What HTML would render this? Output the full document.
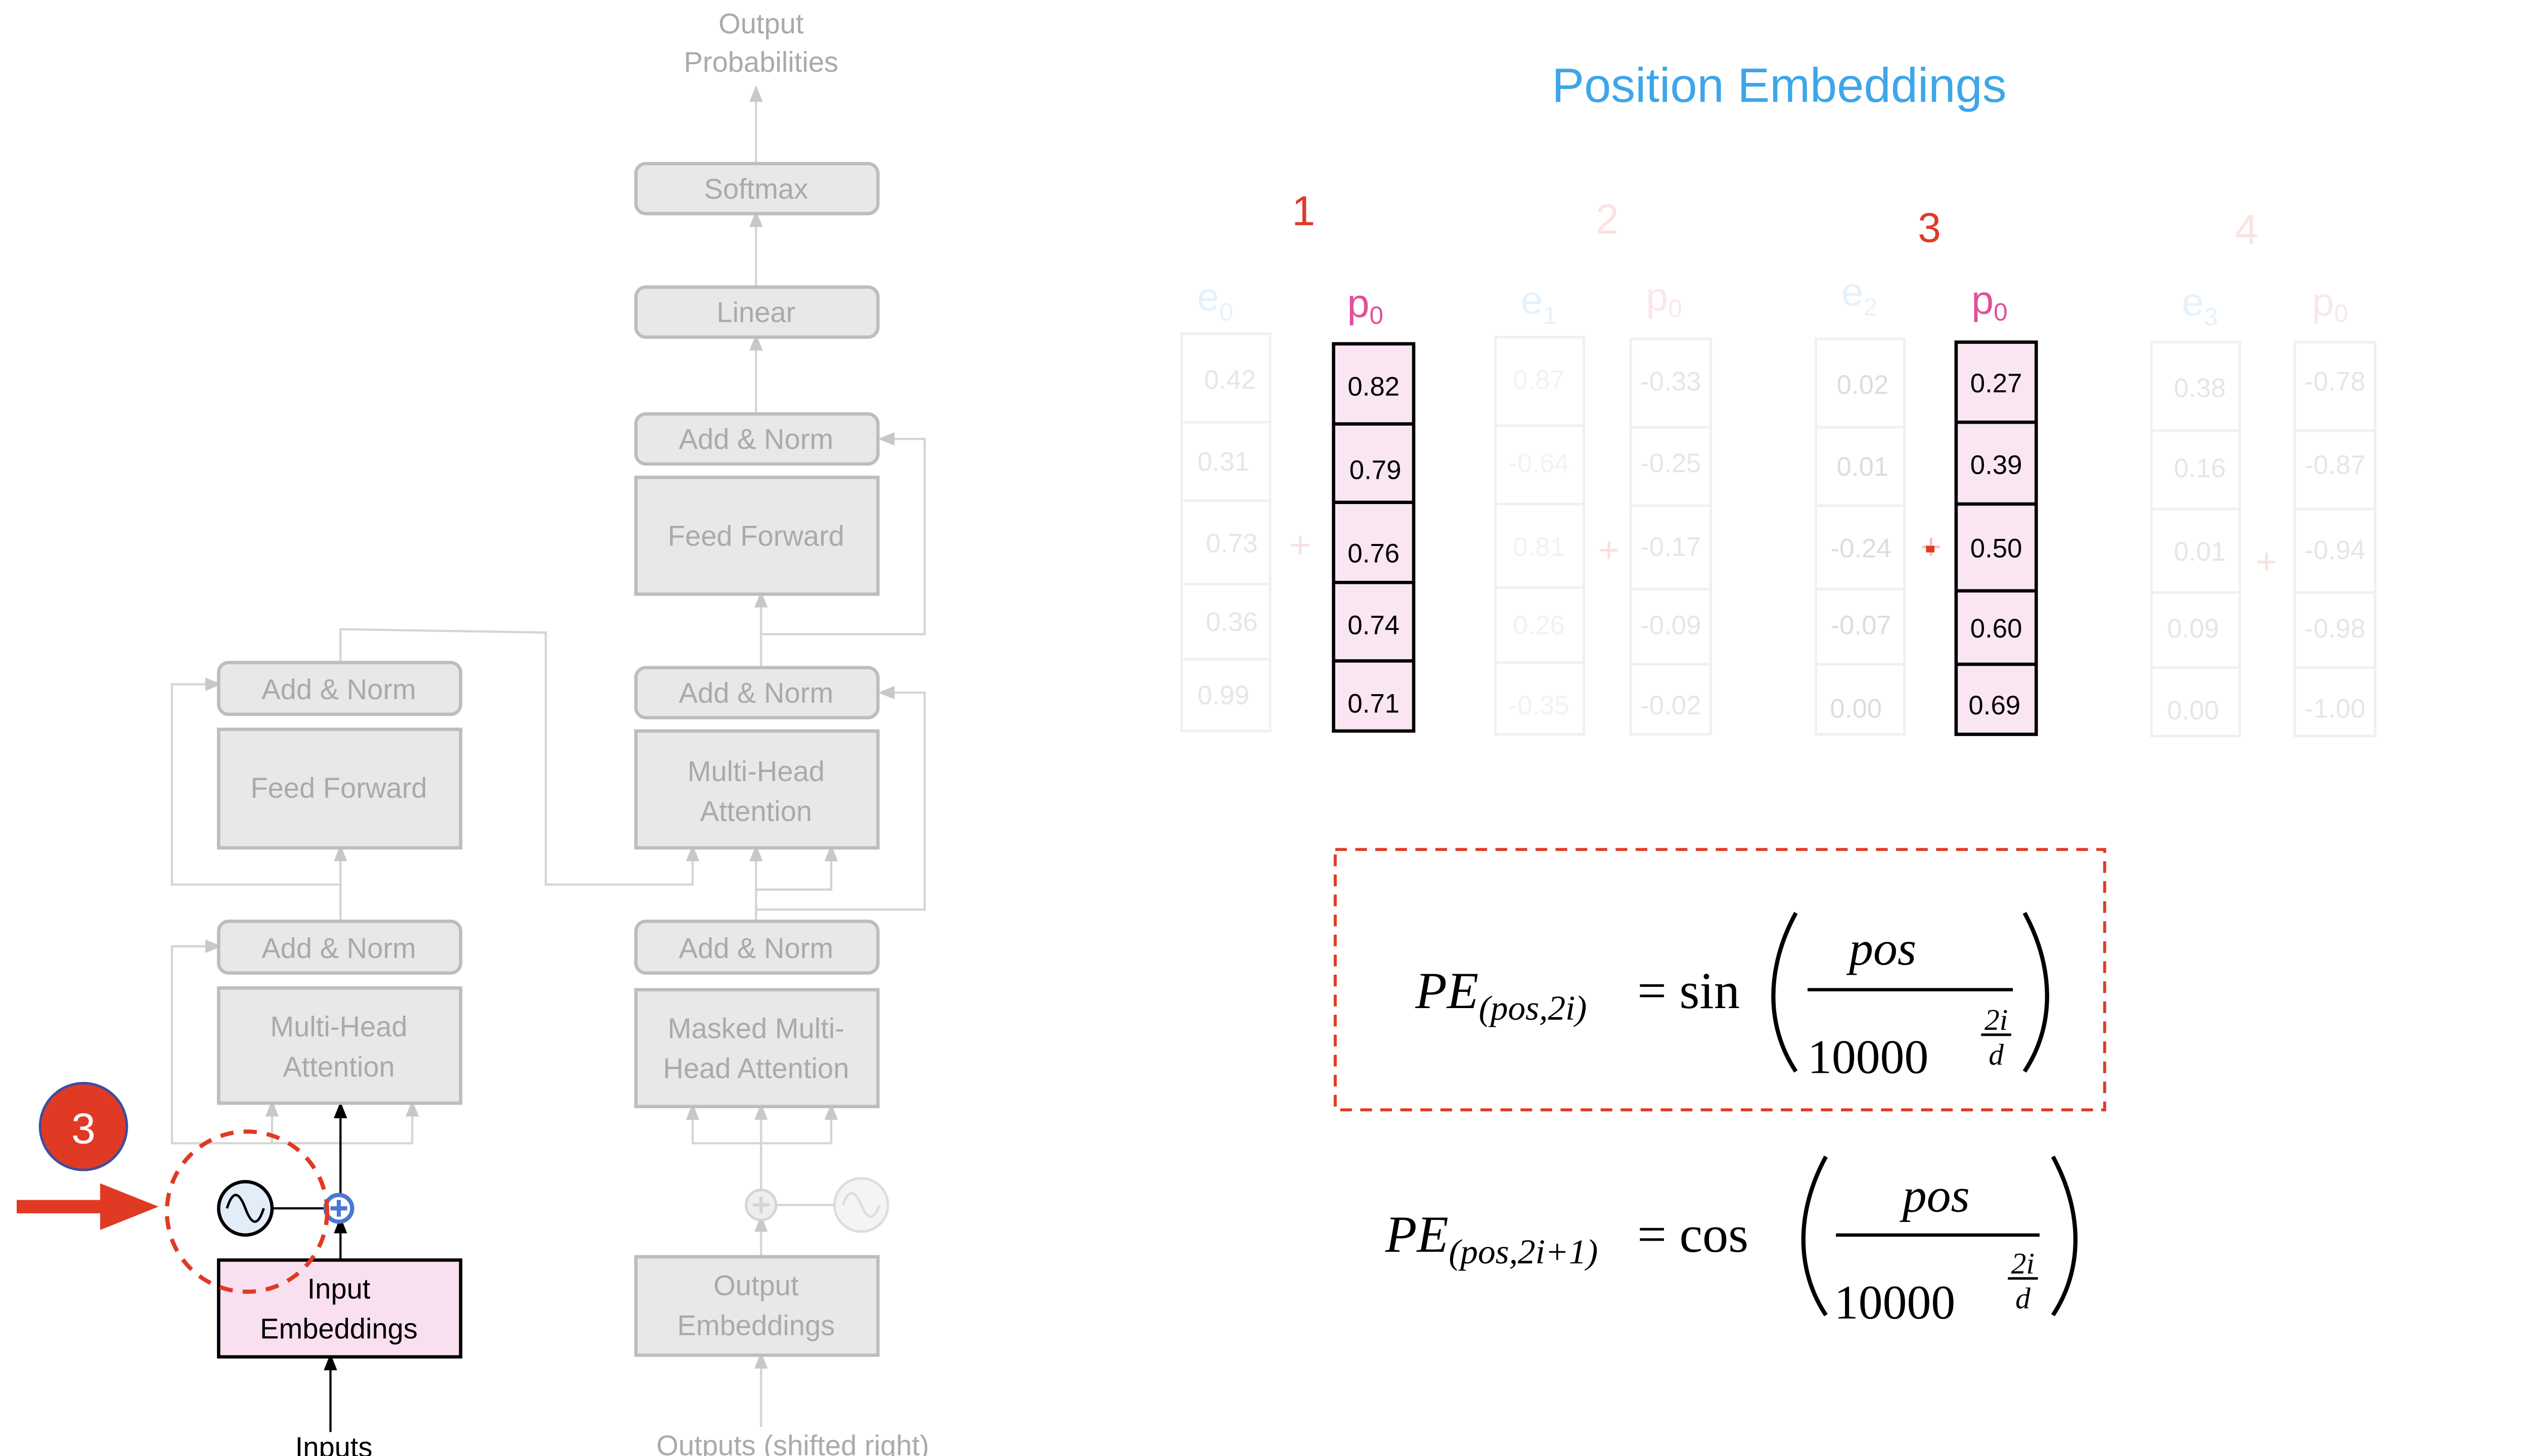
<!DOCTYPE html>
<html><head><meta charset="utf-8"><style>
html,body{margin:0;padding:0;background:#fff;}
svg{display:block;}
.g{font-family:"Liberation Sans",sans-serif;fill:#aaa;font-size:17px;text-anchor:middle;}
.bx{fill:#e8e8e8;stroke:#bdbdbd;stroke-width:2;}
.ln{stroke:#d4d4d4;stroke-width:1.3;fill:none;}
.fv{font-family:"Liberation Sans",sans-serif;font-size:16px;text-anchor:middle;fill:#e6e6e6;}
.pv{font-family:"Liberation Sans",sans-serif;font-size:16px;text-anchor:middle;fill:#000;}
.cell{fill:none;stroke:#f0f0f0;stroke-width:1.5;}
.m{font-family:"Liberation Serif",serif;fill:#000;}
</style></head><body>
<svg width="5120" height="2880" viewBox="0 0 1551 872.4" preserveAspectRatio="none" xmlns="http://www.w3.org/2000/svg">
<defs>
<marker id="ag" markerWidth="10" markerHeight="10" refX="5" refY="5" orient="auto" markerUnits="userSpaceOnUse"><path d="M0,1 L10,5 L0,9 z" fill="#c8c8c8"/></marker>
<marker id="ab" markerWidth="10" markerHeight="10" refX="5" refY="5" orient="auto" markerUnits="userSpaceOnUse"><path d="M0,1 L10,5 L0,9 z" fill="#000"/></marker>
</defs>
<rect width="1551" height="872.4" fill="#fff"/>

<line class="ln" x1="453" y1="98" x2="453" y2="56" marker-end="url(#ag)"/>
<line class="ln" x1="453" y1="172" x2="453" y2="131" marker-end="url(#ag)"/>
<line class="ln" x1="453" y1="248" x2="453" y2="205" marker-end="url(#ag)"/>
<line class="ln" x1="456" y1="400" x2="456" y2="359" marker-end="url(#ag)"/>
<polyline class="ln" points="456,380 554,380 554,263 531,263" marker-end="url(#ag)"/>
<line class="ln" x1="453" y1="552" x2="453" y2="511" marker-end="url(#ag)"/>
<polyline class="ln" points="453,533 498,533 498,511" marker-end="url(#ag)"/>
<polyline class="ln" points="453,545 554,545 554,415 531,415" marker-end="url(#ag)"/>
<polyline class="ln" points="204,397 204,377 327,379 327,530 415,530 415,511" marker-end="url(#ag)"/>
<line class="ln" x1="456" y1="753" x2="456" y2="733" marker-end="url(#ag)"/>
<line class="ln" x1="456" y1="713" x2="456" y2="666" marker-end="url(#ag)"/>
<polyline class="ln" points="456,685 415,685 415,666" marker-end="url(#ag)"/>
<polyline class="ln" points="456,685 498,685 498,666" marker-end="url(#ag)"/>
<line class="ln" x1="465" y1="722" x2="500" y2="722"/>
<line class="ln" x1="456" y1="855" x2="456" y2="815" marker-end="url(#ag)"/>

<line class="ln" x1="204" y1="552" x2="204" y2="511" marker-end="url(#ag)"/>
<polyline class="ln" points="204,530 103,530 103,410 128,410" marker-end="url(#ag)"/>
<polyline class="ln" points="204,685 103,685 103,567 128,567" marker-end="url(#ag)"/>
<polyline class="ln" points="204,685 163,685 163,664" marker-end="url(#ag)"/>
<polyline class="ln" points="204,685 247,685 247,664" marker-end="url(#ag)"/>
<line x1="204" y1="716" x2="204" y2="665" stroke="#000" stroke-width="1.3" marker-end="url(#ab)"/>
<line x1="204" y1="755" x2="204" y2="734" stroke="#000" stroke-width="1.3" marker-end="url(#ab)"/>
<line x1="198" y1="858" x2="198" y2="816" stroke="#000" stroke-width="1.3" marker-end="url(#ab)"/>
<line x1="163" y1="724" x2="195" y2="724" stroke="#000" stroke-width="1.3"/>

<rect class="bx" x="381" y="98" width="145" height="30" rx="6"/><text class="g" x="453" y="119">Softmax</text>
<rect class="bx" x="381" y="172" width="145" height="30" rx="6"/><text class="g" x="453" y="193">Linear</text>
<rect class="bx" x="381" y="248" width="145" height="30" rx="6"/><text class="g" x="453" y="269">Add &amp; Norm</text>
<rect class="bx" x="381" y="286" width="145" height="70"/><text class="g" x="453" y="327">Feed Forward</text>
<rect class="bx" x="381" y="400" width="145" height="30" rx="6"/><text class="g" x="453" y="421">Add &amp; Norm</text>
<rect class="bx" x="381" y="438" width="145" height="70"/><text class="g" x="453" y="468">Multi-Head</text><text class="g" x="453" y="492">Attention</text>
<rect class="bx" x="381" y="552" width="145" height="31" rx="6"/><text class="g" x="453" y="574">Add &amp; Norm</text>
<rect class="bx" x="381" y="593" width="145" height="70"/><text class="g" x="453" y="622">Masked Multi-</text><text class="g" x="453" y="646">Head Attention</text>
<rect class="bx" x="381" y="753" width="145" height="59"/><text class="g" x="453" y="776">Output</text><text class="g" x="453" y="800">Embeddings</text>
<text class="g" x="456" y="20">Output</text><text class="g" x="456" y="43">Probabilities</text>
<text class="g" x="475" y="872">Outputs (shifted right)</text>
<circle cx="456" cy="722" r="9" fill="#eee" stroke="#d4d4d4" stroke-width="1.5"/>
<path d="M451,722 h10 M456,717 v10" stroke="#d4d4d4" stroke-width="2"/>
<circle cx="516" cy="722" r="16" fill="#f4f4f4" stroke="#ddd" stroke-width="1.5"/>
<path d="M505,722 Q510,708 516,722 T527,722" stroke="#ddd" stroke-width="1.5" fill="none"/>

<rect class="bx" x="131" y="397" width="145" height="31" rx="6"/><text class="g" x="203" y="419">Add &amp; Norm</text>
<rect class="bx" x="131" y="437" width="145" height="71"/><text class="g" x="203" y="478">Feed Forward</text>
<rect class="bx" x="131" y="552" width="145" height="31" rx="6"/><text class="g" x="203" y="574">Add &amp; Norm</text>
<rect class="bx" x="131" y="592" width="145" height="69"/><text class="g" x="203" y="621">Multi-Head</text><text class="g" x="203" y="645">Attention</text>
<rect x="131" y="755" width="145" height="58" fill="#f8e0f0" stroke="#000" stroke-width="2"/>
<text class="g" style="fill:#000" x="203" y="778">Input</text><text class="g" style="fill:#000" x="203" y="802">Embeddings</text>
<text class="g" style="fill:#000" x="200" y="873">Inputs</text>

<circle cx="147" cy="724" r="16" fill="#e3edf8" stroke="#000" stroke-width="2"/>
<path d="M136,724 Q141,708 147,724 T158,724" stroke="#000" stroke-width="1.5" fill="none"/>
<circle cx="203" cy="724" r="8" fill="#fff" stroke="#4a78d0" stroke-width="2.5"/>
<path d="M198,724 h10 M203,719 v10" stroke="#4a78d0" stroke-width="2.5"/>
<circle cx="148" cy="726" r="48" fill="none" stroke="#e03a25" stroke-width="2.5" stroke-dasharray="8,6"/>
<circle cx="50" cy="675" r="26" fill="#e03a25" stroke="#3a4ea0" stroke-width="1.5"/>
<text x="50" y="685" font-family="Liberation Sans,sans-serif" font-size="26" fill="#fff" text-anchor="middle">3</text>
<rect x="10" y="719" width="52" height="8" fill="#e03a25"/>
<path d="M60,709 L95,723 L60,737 z" fill="#e03a25"/>

<text x="1066" y="61" font-family="Liberation Sans,sans-serif" font-size="29" fill="#3ea6e8" text-anchor="middle">Position Embeddings</text>
<g font-family="Liberation Sans,sans-serif" font-size="25" text-anchor="middle">
<text x="781" y="135" fill="#e03a25">1</text>
<text x="963" y="140" fill="#fbe3e0">2</text>
<text x="1156" y="145" fill="#e03a25">3</text>
<text x="1346" y="146" fill="#fbe3e0">4</text>
</g>
<g font-family="Liberation Sans,sans-serif" font-size="24" text-anchor="middle">
<text x="728" y="186" fill="#e6f2fb">e<tspan font-size="15" dy="6">0</tspan></text>
<text x="818" y="190" fill="#e0509a">p<tspan font-size="15" dy="4">0</tspan></text>
<text x="922" y="188" fill="#e6f2fb">e<tspan font-size="15" dy="6">1</tspan></text>
<text x="997" y="186" fill="#fbe6ee">p<tspan font-size="15" dy="4">0</tspan></text>
<text x="1114" y="183" fill="#e6f2fb">e<tspan font-size="15" dy="6">2</tspan></text>
<text x="1192" y="188" fill="#e0509a">p<tspan font-size="15" dy="4">0</tspan></text>
<text x="1318" y="189" fill="#e6f2fb">e<tspan font-size="15" dy="6">3</tspan></text>
<text x="1396" y="189" fill="#fbe6ee">p<tspan font-size="15" dy="4">0</tspan></text>
</g>
<g font-family="Liberation Sans,sans-serif" font-size="22" fill="#fbe0e0" text-anchor="middle">
<text x="779" y="334">+</text><text x="964" y="337">+</text><text x="1157" y="335" fill="#f5c0c0">+</text><text x="1358" y="344">+</text>
</g>

<g>
<rect class="cell" x="708" y="200" width="53" height="238"/>
<line class="cell" x1="708" y1="253" x2="761" y2="253"/><line class="cell" x1="708" y1="300" x2="761" y2="300"/><line class="cell" x1="708" y1="350" x2="761" y2="350"/><line class="cell" x1="708" y1="395" x2="761" y2="395"/>
<text class="fv" x="737" y="233">0.42</text><text class="fv" x="733" y="282">0.31</text><text class="fv" x="738" y="331">0.73</text><text class="fv" x="738" y="378">0.36</text><text class="fv" x="733" y="422">0.99</text>

<rect class="cell" x="896" y="202" width="53" height="238"/>
<line class="cell" x1="896" y1="255" x2="949" y2="255"/><line class="cell" x1="896" y1="302" x2="949" y2="302"/><line class="cell" x1="896" y1="352" x2="949" y2="352"/><line class="cell" x1="896" y1="397" x2="949" y2="397"/>
<text class="fv" style="fill:#f2f2f2" x="922" y="233">0.87</text><text class="fv" style="fill:#f2f2f2" x="922" y="283">-0.64</text><text class="fv" style="fill:#f2f2f2" x="922" y="333">0.81</text><text class="fv" style="fill:#f2f2f2" x="922" y="380">0.26</text><text class="fv" style="fill:#f2f2f2" x="922" y="428">-0.35</text>

<rect class="cell" x="977" y="203" width="48" height="237"/>
<line class="cell" x1="977" y1="256" x2="1025" y2="256"/><line class="cell" x1="977" y1="303" x2="1025" y2="303"/><line class="cell" x1="977" y1="353" x2="1025" y2="353"/><line class="cell" x1="977" y1="398" x2="1025" y2="398"/>
<text class="fv" x="1001" y="234">-0.33</text><text class="fv" x="1001" y="283">-0.25</text><text class="fv" x="1001" y="333">-0.17</text><text class="fv" x="1001" y="380">-0.09</text><text class="fv" x="1001" y="428">-0.02</text>

<rect class="cell" x="1088" y="203" width="53" height="237"/>
<line class="cell" x1="1088" y1="256" x2="1141" y2="256"/><line class="cell" x1="1088" y1="303" x2="1141" y2="303"/><line class="cell" x1="1088" y1="353" x2="1141" y2="353"/><line class="cell" x1="1088" y1="398" x2="1141" y2="398"/>
<text class="fv" style="fill:#ddd" x="1116" y="236">0.02</text><text class="fv" style="fill:#ddd" x="1116" y="285">0.01</text><text class="fv" style="fill:#ddd" x="1115" y="334">-0.24</text><text class="fv" style="fill:#ddd" x="1115" y="380">-0.07</text><text class="fv" style="fill:#ddd" x="1112" y="430">0.00</text>

<rect class="cell" x="1289" y="205" width="53" height="236"/>
<line class="cell" x1="1289" y1="258" x2="1342" y2="258"/><line class="cell" x1="1289" y1="305" x2="1342" y2="305"/><line class="cell" x1="1289" y1="355" x2="1342" y2="355"/><line class="cell" x1="1289" y1="400" x2="1342" y2="400"/>
<text class="fv" x="1318" y="238">0.38</text><text class="fv" x="1318" y="286">0.16</text><text class="fv" x="1318" y="336">0.01</text><text class="fv" x="1314" y="382">0.09</text><text class="fv" x="1314" y="431">0.00</text>

<rect class="cell" x="1375" y="205" width="48" height="236"/>
<line class="cell" x1="1375" y1="258" x2="1423" y2="258"/><line class="cell" x1="1375" y1="305" x2="1423" y2="305"/><line class="cell" x1="1375" y1="355" x2="1423" y2="355"/><line class="cell" x1="1375" y1="400" x2="1423" y2="400"/>
<text class="fv" x="1399" y="234">-0.78</text><text class="fv" x="1399" y="284">-0.87</text><text class="fv" x="1399" y="335">-0.94</text><text class="fv" x="1399" y="382">-0.98</text><text class="fv" x="1399" y="430">-1.00</text>
</g>

<rect x="799" y="206" width="48" height="232" fill="#f9e6f2" stroke="#000" stroke-width="2"/>
<g stroke="#000" stroke-width="2"><line x1="799" y1="254" x2="847" y2="254"/><line x1="799" y1="301" x2="847" y2="301"/><line x1="799" y1="349" x2="847" y2="349"/><line x1="799" y1="396" x2="847" y2="396"/></g>
<text class="pv" x="823" y="237">0.82</text><text class="pv" x="824" y="287">0.79</text><text class="pv" x="823" y="337">0.76</text><text class="pv" x="823" y="380">0.74</text><text class="pv" x="823" y="427">0.71</text>

<rect x="1172" y="205" width="48" height="235" fill="#f9e6f2" stroke="#000" stroke-width="2"/>
<g stroke="#000" stroke-width="2"><line x1="1172" y1="253" x2="1220" y2="253"/><line x1="1172" y1="302" x2="1220" y2="302"/><line x1="1172" y1="354" x2="1220" y2="354"/><line x1="1172" y1="398" x2="1220" y2="398"/></g>
<text class="pv" x="1196" y="235">0.27</text><text class="pv" x="1196" y="284">0.39</text><text class="pv" x="1196" y="334">0.50</text><text class="pv" x="1196" y="382">0.60</text><text class="pv" x="1195" y="428">0.69</text>
<rect x="1154" y="327" width="5" height="4" fill="#e03a25"/>

<rect x="800" y="509" width="461" height="156" fill="none" stroke="#e03a25" stroke-width="1.8" stroke-dasharray="7,5"/>
<g class="m">
<text x="848" y="604" font-size="31" font-style="italic">PE</text>
<text x="886" y="611" font-size="21" font-style="italic">(pos,2i)</text>
<text x="981" y="604" font-size="31">= sin</text>
<path d="M1076,547 C1058,580 1058,615 1076,642" stroke="#000" stroke-width="2.5" fill="none"/>
<path d="M1213,547 C1231,580 1231,615 1213,642" stroke="#000" stroke-width="2.5" fill="none"/>
<text x="1128" y="578" font-size="29" font-style="italic" text-anchor="middle">pos</text>
<line x1="1083" y1="593" x2="1206" y2="593" stroke="#000" stroke-width="2"/>
<text x="1083" y="643" font-size="29">10000</text>
<text x="1196" y="617" font-size="18" font-style="italic" text-anchor="middle">2i</text>
<line x1="1187" y1="620" x2="1205" y2="620" stroke="#000" stroke-width="1.5"/>
<text x="1196" y="638" font-size="18" font-style="italic" text-anchor="middle">d</text>

<text x="830" y="750" font-size="31" font-style="italic">PE</text>
<text x="868" y="757" font-size="21" font-style="italic">(pos,2i+1)</text>
<text x="981" y="750" font-size="31">= cos</text>
<path d="M1094,693 C1076,726 1076,761 1094,788" stroke="#000" stroke-width="2.5" fill="none"/>
<path d="M1230,693 C1248,726 1248,761 1230,788" stroke="#000" stroke-width="2.5" fill="none"/>
<text x="1160" y="726" font-size="29" font-style="italic" text-anchor="middle">pos</text>
<line x1="1100" y1="740" x2="1222" y2="740" stroke="#000" stroke-width="2"/>
<text x="1099" y="790" font-size="29">10000</text>
<text x="1212" y="763" font-size="18" font-style="italic" text-anchor="middle">2i</text>
<line x1="1203" y1="766" x2="1221" y2="766" stroke="#000" stroke-width="1.5"/>
<text x="1212" y="784" font-size="18" font-style="italic" text-anchor="middle">d</text>
</g>
</svg>
</body></html>
